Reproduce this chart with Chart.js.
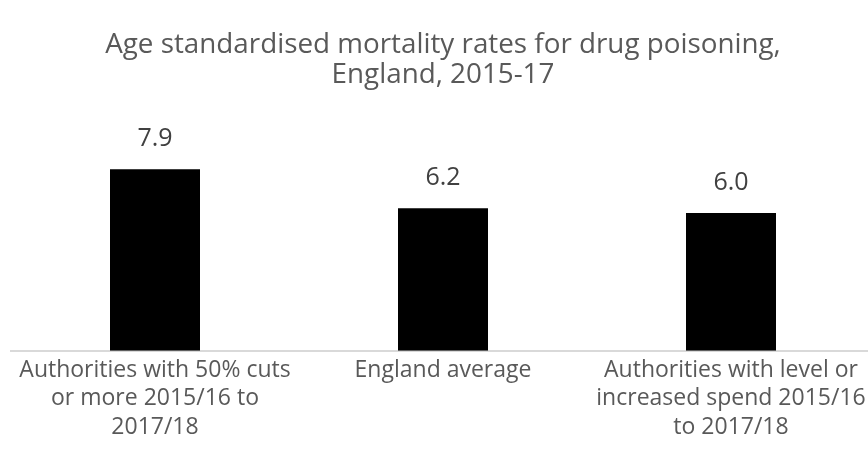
<!DOCTYPE html>
<html>
<head>
<meta charset="utf-8">
<script src="https://cdn.jsdelivr.net/npm/chart.js@4"></script>
<style>
  html, body { margin: 0; padding: 0; background: #fff; overflow: hidden; }
  #wrap { width: 868px; height: 471px; overflow: hidden; }
</style>
</head>
<body>
<div id="wrap"><canvas id="chart" width="876" height="471"></canvas></div>
<script>
const titleLines = ['Age standardised mortality rates for drug poisoning,', 'England, 2015-17'];
const categories = [
  ['Authorities with 50% cuts', 'or more 2015/16 to', '2017/18'],
  ['England average'],
  ['Authorities with level or', 'increased spend 2015/16', 'to 2017/18']
];
const rates = [7.9, 6.2, 6.0];

const FONT = '"Open Sans", Lato, sans-serif';

// writes the value above each bar
const valueLabels = {
  id: 'valueLabels',
  afterDatasetsDraw(chart) {
    const ctx = chart.ctx;
    const meta = chart.getDatasetMeta(0);
    ctx.save();
    ctx.font = '25px ' + FONT;
    ctx.fillStyle = '#404040';
    ctx.textAlign = 'center';
    ctx.textBaseline = 'middle';
    meta.data.forEach((bar, i) => {
      ctx.fillText(rates[i].toFixed(1), bar.x, bar.y - 30);
    });
    ctx.restore();
  }
};

new Chart(document.getElementById('chart'), {
  type: 'bar',
  data: {
    labels: categories,
    datasets: [{
      data: rates,
      backgroundColor: '#000000',
      borderWidth: 0,
      barPercentage: 0.625,
      categoryPercentage: 0.5
    }]
  },
  options: {
    responsive: false,
    animation: false,
    layout: { padding: { left: 11, right: 1, top: 0, bottom: 24 } },
    plugins: {
      legend: { display: false },
      tooltip: { enabled: false },
      title: {
        display: true,
        text: titleLines,
        color: '#595959',
        font: { family: FONT, size: 27.8, weight: 'normal', lineHeight: 1.08 },
        padding: { top: 30, bottom: 31 }
      }
    },
    scales: {
      x: {
        grid: { display: false, drawTicks: false },
        border: { display: true, color: '#d9d9d9', width: 2 },
        ticks: {
          color: '#595959',
          font: { family: FONT, size: 23, lineHeight: 1.22 },
          padding: 6,
          maxRotation: 0,
          autoSkip: false
        }
      },
      y: {
        display: false,
        min: 0,
        max: 10
      }
    }
  },
  plugins: [valueLabels]
});
</script>
</body>
</html>
